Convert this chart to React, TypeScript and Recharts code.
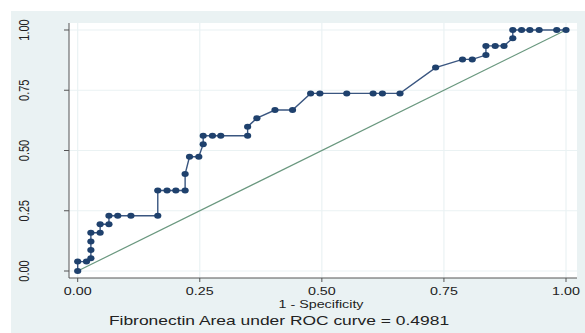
import { LineChart, Line, XAxis, YAxis, CartesianGrid } from 'recharts';

// ROC points, in plotting order
const fpr = [
  0, 0, 0.018, 0.027, 0.027, 0.027, 0.027, 0.046, 0.046, 0.064, 0.064, 0.082,
  0.109, 0.164, 0.164, 0.183, 0.201, 0.22, 0.22, 0.229, 0.248, 0.257, 0.257,
  0.276, 0.293, 0.348, 0.348, 0.367, 0.404, 0.44, 0.477, 0.496, 0.551, 0.605,
  0.624, 0.66, 0.733, 0.788, 0.808, 0.836, 0.836, 0.855, 0.873, 0.891, 0.891,
  0.909, 0.926, 0.945, 0.981, 1,
];
const tpr = [
  0, 0.039, 0.039, 0.053, 0.087, 0.122, 0.159, 0.159, 0.194, 0.194, 0.229,
  0.229, 0.229, 0.229, 0.334, 0.334, 0.334, 0.334, 0.402, 0.474, 0.474, 0.526,
  0.561, 0.561, 0.561, 0.561, 0.599, 0.634, 0.668, 0.668, 0.737, 0.737, 0.737,
  0.737, 0.737, 0.737, 0.844, 0.878, 0.878, 0.896, 0.934, 0.934, 0.934, 0.966,
  1, 1, 1, 1, 1, 1,
];
const diagX = [0, 1];
const diagY = [0, 1];
const ticks = [0, 0.25, 0.5, 0.75, 1];
const tickLabels = ['0.00', '0.25', '0.50', '0.75', '1.00'];
const xTitle = '1 - Specificity';
const caption = 'Fibronectin Area under ROC curve = 0.4981';

const rocData = fpr.map((x, i) => ({ x, y: tpr[i] }));
const diagData = diagX.map((x, i) => ({ x, y: diagY[i] }));

const FONT = '"Liberation Sans", Arial, sans-serif';
const NAVY = '#1f416d';
const STRETCH = 1.3;

const label = (v: number) => tickLabels[ticks.indexOf(v)] ?? v.toFixed(2);

const XTick = (props: any) => {
  const { x, y, payload } = props;
  return (
    <g transform={`translate(${x},${y + 11}) scale(${STRETCH},1)`}>
      <text textAnchor="middle" fontSize={11} fontFamily={FONT} fill="#222">
        {label(payload.value)}
      </text>
    </g>
  );
};

const YTick = (props: any) => {
  const { x, y, payload } = props;
  return (
    <g transform={`translate(${x - 33},${y}) scale(${STRETCH},1) rotate(-90)`}>
      <text textAnchor="middle" fontSize={11} fontFamily={FONT} fill="#222">
        {label(payload.value)}
      </text>
    </g>
  );
};

const Dot = (props: any) => {
  const { cx, cy, index } = props;
  return <ellipse key={`d-${index}`} cx={cx} cy={cy} rx={3.6} ry={3} fill={NAVY} />;
};

export default function App() {
  return (
    <div style={{ position: 'absolute', left: 0, top: 0, width: 585, height: 333, background: '#fff' }}>
      <div style={{ position: 'absolute', left: 11, top: 11, right: 0, bottom: 0, background: '#eaf2f3' }} />
      <div style={{ position: 'absolute', left: 0, top: 0 }}>
        <LineChart width={585} height={333} margin={{ top: 23, right: 8, left: 19, bottom: 25 }}>
          <CartesianGrid fill="#ffffff" stroke="#eaf2f3" strokeWidth={1.2} horizontalValues={ticks} verticalValues={ticks} />
          <XAxis
            type="number"
            dataKey="x"
            domain={[-0.0178, 1.0225]}
            ticks={ticks}
            allowDataOverflow
            height={30}
            tickSize={4}
            stroke="#555"
            tick={<XTick />}
          />
          <YAxis
            type="number"
            dataKey="y"
            domain={[-0.029, 1.029]}
            ticks={ticks}
            allowDataOverflow
            width={50}
            tickSize={5}
            stroke="#555"
            tick={<YTick />}
          />
          <Line
            data={diagData}
            dataKey="y"
            type="linear"
            stroke="#6a987f"
            strokeWidth={1.2}
            dot={false}
            isAnimationActive={false}
          />
          <Line
            data={rocData}
            dataKey="y"
            type="linear"
            stroke="#3a5680"
            strokeWidth={1.4}
            dot={<Dot />}
            isAnimationActive={false}
          />
        </LineChart>
      </div>
      <svg width={585} height={333} style={{ position: 'absolute', left: 0, top: 0, pointerEvents: 'none' }}>
        <g transform={`translate(321,307.5) scale(${STRETCH},1)`}>
          <text textAnchor="middle" fontSize={11} fontFamily={FONT} fill="#222">{xTitle}</text>
        </g>
        <g transform={`translate(279,325) scale(${STRETCH},1)`}>
          <text textAnchor="middle" fontSize={13.4} fontFamily={FONT} fill="#222">{caption}</text>
        </g>
      </svg>
    </div>
  );
}
